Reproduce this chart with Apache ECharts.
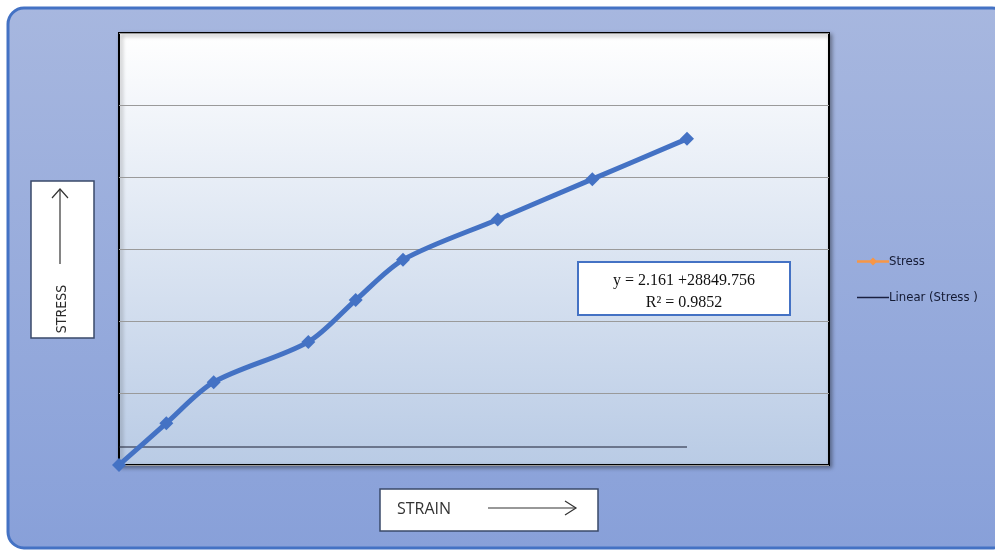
<!DOCTYPE html>
<html>
<head>
<meta charset="utf-8">
<script src="https://cdn.jsdelivr.net/npm/echarts@6/dist/echarts.min.js"></script>
<style>
  html, body { margin: 0; padding: 0; background: #fff; }
  #chart { width: 995px; height: 550px; }
</style>
</head>
<body>
<div id="chart"></div>
<script>
// strain positions (axis has no labels), stress readings
const strain = [0, 1, 2, 4, 5, 6, 8, 10, 12]
const stress = [0, 0.58, 1.15, 1.71, 2.29, 2.85, 3.41, 3.97, 4.53]
// trendline as drawn
const linearX = [0, 12]
const linearY = [0.25, 0.25]
const seriesNames = ['Stress', 'Linear (Stress )']
const equation = ['y = 2.161 +28849.756', 'R² = 0.9852']

const narrow = '"DejaVu Sans Condensed", "Liberation Sans Narrow", "Open Sans", sans-serif'

const chart = echarts.init(document.getElementById('chart'))

chart.setOption({
  animation: false,
  grid: {
    left: 119,
    top: 33,
    width: 710,
    height: 432,
    show: true,
    backgroundColor: new echarts.graphic.LinearGradient(0, 0, 0, 1, [
      { offset: 0, color: '#ffffff' },
      { offset: 1, color: '#b9cbe5' }
    ]),
    borderColor: '#000',
    borderWidth: 2,
    shadowColor: 'rgba(0,0,0,0.35)',
    shadowBlur: 4,
    shadowOffsetX: 2,
    shadowOffsetY: 2
  },
  xAxis: {
    type: 'value',
    min: 0,
    max: 15,
    show: false
  },
  yAxis: {
    type: 'value',
    min: 0,
    max: 6,
    interval: 1,
    axisLine: { show: false },
    axisTick: { show: false },
    axisLabel: { show: false },
    splitLine: { lineStyle: { color: '#9a9a9a', width: 1 } }
  },
  legend: {
    orient: 'vertical',
    left: 852,
    top: 250,
    itemGap: 23,
    itemWidth: 32,
    itemHeight: 9,
    textStyle: {
      fontFamily: narrow,
      fontSize: 13,
      color: '#141a33',
      padding: [0, 0, 0, -5]
    },
    data: [
      {
        name: seriesNames[0],
        icon: 'path://M0,6H70V12H0Z M35,0L44,9L35,18L26,9Z',
        itemStyle: { color: '#f79646', borderWidth: 0 }
      },
      {
        name: seriesNames[1],
        icon: 'path://M0,0H64V3H0Z',
        itemStyle: { color: '#1a2040', borderWidth: 0 }
      }
    ]
  },
  graphic: [
    {
      type: 'rect',
      z: -10,
      shape: { x: 8, y: 8, width: 1000, height: 540, r: 16 },
      style: {
        fill: new echarts.graphic.LinearGradient(0, 0, 0, 1, [
          { offset: 0, color: '#a7b7df' },
          { offset: 1, color: '#88a0d9' }
        ]),
        stroke: '#4472c4',
        lineWidth: 3
      }
    },
    // equation box
    {
      type: 'group',
      z: 100,
      children: [
        {
          type: 'rect',
          shape: { x: 578, y: 262, width: 212, height: 53 },
          style: { fill: '#fff', stroke: '#4472c4', lineWidth: 2 }
        },
        {
          type: 'text',
          x: 684, y: 281,
          style: {
            text: equation[0], fill: '#111', align: 'center', verticalAlign: 'middle',
            font: '16px "Liberation Serif", "DejaVu Serif", serif'
          }
        },
        {
          type: 'text',
          x: 684, y: 303,
          style: {
            text: equation[1], fill: '#111', align: 'center', verticalAlign: 'middle',
            font: '16px "Liberation Serif", "DejaVu Serif", serif'
          }
        }
      ]
    },
    // STRESS label box
    {
      type: 'group',
      children: [
        {
          type: 'rect',
          shape: { x: 31, y: 181, width: 63, height: 157 },
          style: { fill: '#fff', stroke: '#3a4a6a', lineWidth: 1.5 }
        },
        {
          type: 'polyline',
          shape: { points: [[60, 264], [60, 189]] },
          style: { stroke: '#333', lineWidth: 1.2 }
        },
        {
          type: 'polyline',
          shape: { points: [[52, 198], [60, 189], [68, 198]] },
          style: { stroke: '#333', lineWidth: 1.2, fill: 'none' }
        },
        {
          type: 'text',
          x: 62, y: 309,
          rotation: Math.PI / 2,
          style: {
            text: 'STRESS', fill: '#2a2a2a', align: 'center', verticalAlign: 'middle',
            font: '14px ' + narrow
          }
        }
      ]
    },
    // STRAIN label box
    {
      type: 'group',
      children: [
        {
          type: 'rect',
          shape: { x: 380, y: 489, width: 218, height: 42 },
          style: { fill: '#fff', stroke: '#3a4a6a', lineWidth: 1.5 }
        },
        {
          type: 'text',
          x: 397, y: 509,
          style: {
            text: 'STRAIN', fill: '#333', align: 'left', verticalAlign: 'middle',
            font: '16px "Open Sans", "Liberation Sans", sans-serif'
          }
        },
        {
          type: 'polyline',
          shape: { points: [[488, 508], [576, 508]] },
          style: { stroke: '#333', lineWidth: 1.2 }
        },
        {
          type: 'polyline',
          shape: { points: [[565, 501], [576, 508], [565, 515]] },
          style: { stroke: '#333', lineWidth: 1.2, fill: 'none' }
        }
      ]
    }
  ],
  series: [
    {
      name: seriesNames[0],
      type: 'line',
      data: strain.map((x, i) => [x, stress[i]]),
      smooth: 0.3,
      symbol: 'diamond',
      symbolSize: 14,
      lineStyle: { color: '#4472c4', width: 5 },
      itemStyle: { color: '#4472c4' },
      z: 5
    },
    {
      name: seriesNames[1],
      type: 'line',
      data: linearX.map((x, i) => [x, linearY[i]]),
      symbol: 'none',
      lineStyle: { color: '#1a1f33', width: 1 },
      z: 4
    }
  ]
})
</script>
</body>
</html>
